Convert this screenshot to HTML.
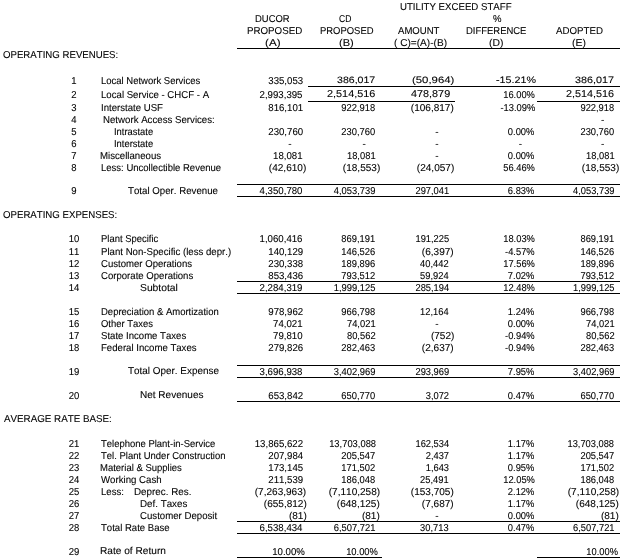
<!DOCTYPE html>
<html lang="en"><head><meta charset="utf-8"><title>Results of Operations</title>
<style>
html,body{margin:0;padding:0;background:#fff;}
body{width:621px;height:559px;position:relative;overflow:hidden;font-family:"Liberation Sans",sans-serif;font-size:10px;line-height:12px;color:#000;font-kerning:none;will-change:transform;filter:grayscale(1);-webkit-text-stroke:0.1px #000;text-rendering:geometricPrecision;}
.t{position:absolute;white-space:pre;transform-origin:0 0;}
.r{position:absolute;white-space:pre;transform-origin:100% 0;text-align:right;}
.h{position:absolute;height:1px;background:#000;}
</style></head><body>
<div class="t" style="left:3.34px;top:50.00px;transform:scaleX(0.9646)">OPERATING REVENUES:</div>
<div class="t" style="left:3.24px;top:210.00px;transform:scaleX(0.9651)">OPERATING EXPENSES:</div>
<div class="t" style="left:3.78px;top:414.00px;transform:scaleX(0.9798)">AVERAGE RATE BASE:</div>
<div class="t" style="left:399.96px;top:2.00px;transform:scaleX(0.9650)">UTILITY EXCEED STAFF</div>
<div class="t" style="left:254.93px;top:14.00px;transform:scaleX(0.9440)">DUCOR</div>
<div class="t" style="left:246.70px;top:26.00px;transform:scaleX(0.9733)">PROPOSED</div>
<div class="t" style="left:264.98px;top:38.00px;transform:scaleX(1.1663)">(A)</div>
<div class="t" style="left:339.37px;top:14.00px;transform:scaleX(0.8546)">CD</div>
<div class="t" style="left:319.93px;top:26.00px;transform:scaleX(0.9444)">PROPOSED</div>
<div class="t" style="left:339.11px;top:38.00px;transform:scaleX(1.1084)">(B)</div>
<div class="t" style="left:397.88px;top:26.00px;transform:scaleX(0.9563)">AMOUNT</div>
<div class="t" style="left:394.17px;top:38.00px;transform:scaleX(1.0107)">( C)=(A)-(B)</div>
<div class="t" style="left:492.86px;top:14.00px;transform:scaleX(0.9537)">%</div>
<div class="t" style="left:466.12px;top:26.00px;transform:scaleX(0.9451)">DIFFERENCE</div>
<div class="t" style="left:489.46px;top:38.00px;transform:scaleX(1.0363)">(D)</div>
<div class="t" style="left:555.98px;top:26.00px;transform:scaleX(0.9699)">ADOPTED</div>
<div class="t" style="left:572.05px;top:38.00px;transform:scaleX(1.0422)">(E)</div>
<div class="t" style="left:64.20px;top:76.00px;width:20px;text-align:center;transform-origin:50% 0;transform:scaleX(0.95)">1</div>
<div class="t" style="left:64.20px;top:90.00px;width:20px;text-align:center;transform-origin:50% 0;transform:scaleX(0.95)">2</div>
<div class="t" style="left:64.20px;top:103.00px;width:20px;text-align:center;transform-origin:50% 0;transform:scaleX(0.95)">3</div>
<div class="t" style="left:64.20px;top:115.00px;width:20px;text-align:center;transform-origin:50% 0;transform:scaleX(0.95)">4</div>
<div class="t" style="left:64.20px;top:127.00px;width:20px;text-align:center;transform-origin:50% 0;transform:scaleX(0.95)">5</div>
<div class="t" style="left:64.20px;top:139.00px;width:20px;text-align:center;transform-origin:50% 0;transform:scaleX(0.95)">6</div>
<div class="t" style="left:64.20px;top:151.00px;width:20px;text-align:center;transform-origin:50% 0;transform:scaleX(0.95)">7</div>
<div class="t" style="left:64.20px;top:163.00px;width:20px;text-align:center;transform-origin:50% 0;transform:scaleX(0.95)">8</div>
<div class="t" style="left:64.20px;top:186.00px;width:20px;text-align:center;transform-origin:50% 0;transform:scaleX(0.95)">9</div>
<div class="t" style="left:64.20px;top:234.00px;width:20px;text-align:center;transform-origin:50% 0;transform:scaleX(0.95)">10</div>
<div class="t" style="left:64.20px;top:247.00px;width:20px;text-align:center;transform-origin:50% 0;transform:scaleX(0.95)">11</div>
<div class="t" style="left:64.20px;top:259.00px;width:20px;text-align:center;transform-origin:50% 0;transform:scaleX(0.95)">12</div>
<div class="t" style="left:64.20px;top:271.00px;width:20px;text-align:center;transform-origin:50% 0;transform:scaleX(0.95)">13</div>
<div class="t" style="left:64.20px;top:283.00px;width:20px;text-align:center;transform-origin:50% 0;transform:scaleX(0.95)">14</div>
<div class="t" style="left:64.20px;top:307.00px;width:20px;text-align:center;transform-origin:50% 0;transform:scaleX(0.95)">15</div>
<div class="t" style="left:64.20px;top:319.00px;width:20px;text-align:center;transform-origin:50% 0;transform:scaleX(0.95)">16</div>
<div class="t" style="left:64.20px;top:331.00px;width:20px;text-align:center;transform-origin:50% 0;transform:scaleX(0.95)">17</div>
<div class="t" style="left:64.20px;top:343.00px;width:20px;text-align:center;transform-origin:50% 0;transform:scaleX(0.95)">18</div>
<div class="t" style="left:64.20px;top:367.00px;width:20px;text-align:center;transform-origin:50% 0;transform:scaleX(0.95)">19</div>
<div class="t" style="left:64.20px;top:391.00px;width:20px;text-align:center;transform-origin:50% 0;transform:scaleX(0.95)">20</div>
<div class="t" style="left:64.20px;top:439.00px;width:20px;text-align:center;transform-origin:50% 0;transform:scaleX(0.95)">21</div>
<div class="t" style="left:64.20px;top:451.00px;width:20px;text-align:center;transform-origin:50% 0;transform:scaleX(0.95)">22</div>
<div class="t" style="left:64.20px;top:463.00px;width:20px;text-align:center;transform-origin:50% 0;transform:scaleX(0.95)">23</div>
<div class="t" style="left:64.20px;top:475.00px;width:20px;text-align:center;transform-origin:50% 0;transform:scaleX(0.95)">24</div>
<div class="t" style="left:64.20px;top:487.00px;width:20px;text-align:center;transform-origin:50% 0;transform:scaleX(0.95)">25</div>
<div class="t" style="left:64.20px;top:499.00px;width:20px;text-align:center;transform-origin:50% 0;transform:scaleX(0.95)">26</div>
<div class="t" style="left:64.20px;top:511.00px;width:20px;text-align:center;transform-origin:50% 0;transform:scaleX(0.95)">27</div>
<div class="t" style="left:64.20px;top:523.00px;width:20px;text-align:center;transform-origin:50% 0;transform:scaleX(0.95)">28</div>
<div class="t" style="left:64.20px;top:547.00px;width:20px;text-align:center;transform-origin:50% 0;transform:scaleX(0.95)">29</div>
<div class="t" style="left:100.92px;top:76.00px;transform:scaleX(0.9497)">Local Network Services</div>
<div class="t" style="left:100.91px;top:90.00px;transform:scaleX(0.9631)">Local Service - CHCF - A</div>
<div class="t" style="left:100.81px;top:103.00px;transform:scaleX(0.9613)">Interstate USF</div>
<div class="t" style="left:103.41px;top:115.00px;transform:scaleX(0.9670)">Network Access Services:</div>
<div class="t" style="left:114.13px;top:127.00px;transform:scaleX(0.9399)">Intrastate</div>
<div class="t" style="left:114.13px;top:139.00px;transform:scaleX(0.9399)">Interstate</div>
<div class="t" style="left:100.41px;top:151.00px;transform:scaleX(0.9649)">Miscellaneous</div>
<div class="t" style="left:100.92px;top:163.00px;transform:scaleX(0.9518)">Less: Uncollectible Revenue</div>
<div class="t" style="left:128.48px;top:186.00px;transform:scaleX(0.9690)">Total Oper. Revenue</div>
<div class="t" style="left:100.93px;top:234.00px;transform:scaleX(0.9445)">Plant Specific</div>
<div class="t" style="left:100.91px;top:247.00px;transform:scaleX(0.9640)">Plant Non-Specific (less depr.)</div>
<div class="t" style="left:101.21px;top:259.00px;transform:scaleX(0.9578)">Customer Operations</div>
<div class="t" style="left:101.21px;top:271.00px;transform:scaleX(0.9591)">Corporate Operations</div>
<div class="t" style="left:140.23px;top:283.00px;transform:scaleX(1.0317)">Subtotal</div>
<div class="t" style="left:100.92px;top:307.00px;transform:scaleX(0.9496)">Depreciation &amp; Amortization</div>
<div class="t" style="left:101.25px;top:319.00px;transform:scaleX(0.9449)">Other Taxes</div>
<div class="t" style="left:101.27px;top:331.00px;transform:scaleX(0.9578)">State Income Taxes</div>
<div class="t" style="left:100.91px;top:343.00px;transform:scaleX(0.9603)">Federal Income Taxes</div>
<div class="t" style="left:128.48px;top:366.00px;transform:scaleX(0.9918)">Total Oper. Expense</div>
<div class="t" style="left:139.88px;top:390.00px;transform:scaleX(1.0018)">Net Revenues</div>
<div class="t" style="left:100.99px;top:439.00px;transform:scaleX(0.9471)">Telephone Plant-in-Service</div>
<div class="t" style="left:100.99px;top:451.00px;transform:scaleX(0.9486)">Tel. Plant Under Construction</div>
<div class="t" style="left:100.42px;top:463.00px;transform:scaleX(0.9497)">Material &amp; Supplies</div>
<div class="t" style="left:101.16px;top:475.00px;transform:scaleX(0.9661)">Working Cash</div>
<div class="t" style="left:100.91px;top:487.00px;transform:scaleX(0.9608)">Less:</div>
<div class="t" style="left:134.09px;top:487.00px;transform:scaleX(0.9837)">Deprec. Res.</div>
<div class="t" style="left:139.90px;top:499.00px;transform:scaleX(0.9795)">Def. Taxes</div>
<div class="t" style="left:140.21px;top:511.00px;transform:scaleX(0.9641)">Customer Deposit</div>
<div class="t" style="left:100.99px;top:523.00px;transform:scaleX(0.9559)">Total Rate Base</div>
<div class="t" style="left:100.37px;top:546.00px;transform:scaleX(1.0131)">Rate of Return</div>
<div class="r" style="right:318.20px;top:76.00px;transform:scaleX(0.9650)">335,053</div>
<div class="t" style="left:337.40px;top:74.00px;transform:scaleX(1.1374);font-size:9.3px">386,017</div>
<div class="t" style="left:411.90px;top:74.00px;transform:scaleX(1.2214);font-size:9.3px">(50,964)</div>
<div class="t" style="left:495.52px;top:74.00px;transform:scaleX(1.1536);font-size:9.3px">-15.21%</div>
<div class="t" style="left:575.49px;top:74.00px;transform:scaleX(1.1587);font-size:9.3px">386,017</div>
<div class="r" style="right:318.20px;top:90.00px;transform:scaleX(0.9650)">2,993,395</div>
<div class="t" style="left:327.25px;top:89.00px;transform:scaleX(1.0862);font-size:10px">2,514,516</div>
<div class="t" style="left:410.65px;top:89.00px;transform:scaleX(1.0834);font-size:10px">478,879</div>
<div class="r" style="right:86.20px;top:90.00px;transform:scaleX(0.9350)">16.00%</div>
<div class="t" style="left:566.36px;top:89.00px;transform:scaleX(1.0793);font-size:10px">2,514,516</div>
<div class="r" style="right:318.20px;top:103.00px;transform:scaleX(0.9650)">816,101</div>
<div class="r" style="right:245.40px;top:103.00px;transform:scaleX(0.9370)">922,918</div>
<div class="r" style="right:167.10px;top:103.00px;transform:scaleX(1.0050)">(106,817)</div>
<div class="r" style="right:86.20px;top:103.00px;transform:scaleX(0.9350)">-13.09%</div>
<div class="r" style="right:6.60px;top:103.00px;transform:scaleX(0.9310)">922,918</div>
<div class="t" style="left:601.03px;top:115.00px">-</div>
<div class="r" style="right:318.20px;top:127.00px;transform:scaleX(0.9650)">230,760</div>
<div class="r" style="right:245.40px;top:127.00px;transform:scaleX(0.9370)">230,760</div>
<div class="t" style="left:435.33px;top:127.00px">-</div>
<div class="r" style="right:86.20px;top:127.00px;transform:scaleX(0.9350)">0.00%</div>
<div class="r" style="right:6.60px;top:127.00px;transform:scaleX(0.9310)">230,760</div>
<div class="t" style="left:288.33px;top:139.00px">-</div>
<div class="t" style="left:362.43px;top:139.00px">-</div>
<div class="t" style="left:435.33px;top:139.00px">-</div>
<div class="t" style="left:518.83px;top:139.00px">-</div>
<div class="t" style="left:601.03px;top:139.00px">-</div>
<div class="r" style="right:318.20px;top:151.00px;transform:scaleX(0.9650)">18,081</div>
<div class="r" style="right:245.40px;top:151.00px;transform:scaleX(0.9370)">18,081</div>
<div class="t" style="left:435.33px;top:151.00px">-</div>
<div class="r" style="right:86.20px;top:151.00px;transform:scaleX(0.9350)">0.00%</div>
<div class="r" style="right:6.60px;top:151.00px;transform:scaleX(0.9310)">18,081</div>
<div class="r" style="right:314.40px;top:163.00px;transform:scaleX(1.0050)">(42,610)</div>
<div class="r" style="right:241.10px;top:163.00px;transform:scaleX(1.0050)">(18,553)</div>
<div class="r" style="right:167.10px;top:163.00px;transform:scaleX(1.0050)">(24,057)</div>
<div class="r" style="right:86.20px;top:163.00px;transform:scaleX(0.9350)">56.46%</div>
<div class="r" style="right:2.10px;top:163.00px;transform:scaleX(1.0050)">(18,553)</div>
<div class="r" style="right:318.20px;top:186.00px;transform:scaleX(0.9650)">4,350,780</div>
<div class="r" style="right:245.40px;top:186.00px;transform:scaleX(0.9370)">4,053,739</div>
<div class="r" style="right:172.30px;top:186.00px;transform:scaleX(0.9320)">297,041</div>
<div class="r" style="right:86.20px;top:186.00px;transform:scaleX(0.9350)">6.83%</div>
<div class="r" style="right:6.60px;top:186.00px;transform:scaleX(0.9310)">4,053,739</div>
<div class="r" style="right:318.20px;top:234.00px;transform:scaleX(0.9650)">1,060,416</div>
<div class="r" style="right:245.40px;top:234.00px;transform:scaleX(0.9370)">869,191</div>
<div class="r" style="right:172.30px;top:234.00px;transform:scaleX(0.9320)">191,225</div>
<div class="r" style="right:86.20px;top:234.00px;transform:scaleX(0.9350)">18.03%</div>
<div class="r" style="right:6.60px;top:234.00px;transform:scaleX(0.9310)">869,191</div>
<div class="r" style="right:318.20px;top:247.00px;transform:scaleX(0.9650)">140,129</div>
<div class="r" style="right:245.40px;top:247.00px;transform:scaleX(0.9370)">146,526</div>
<div class="r" style="right:167.10px;top:247.00px;transform:scaleX(1.0050)">(6,397)</div>
<div class="r" style="right:86.20px;top:247.00px;transform:scaleX(0.9350)">-4.57%</div>
<div class="r" style="right:6.60px;top:247.00px;transform:scaleX(0.9310)">146,526</div>
<div class="r" style="right:318.20px;top:259.00px;transform:scaleX(0.9650)">230,338</div>
<div class="r" style="right:245.40px;top:259.00px;transform:scaleX(0.9370)">189,896</div>
<div class="r" style="right:172.30px;top:259.00px;transform:scaleX(0.9320)">40,442</div>
<div class="r" style="right:86.20px;top:259.00px;transform:scaleX(0.9350)">17.56%</div>
<div class="r" style="right:6.60px;top:259.00px;transform:scaleX(0.9310)">189,896</div>
<div class="r" style="right:318.20px;top:271.00px;transform:scaleX(0.9650)">853,436</div>
<div class="r" style="right:245.40px;top:271.00px;transform:scaleX(0.9370)">793,512</div>
<div class="r" style="right:172.30px;top:271.00px;transform:scaleX(0.9320)">59,924</div>
<div class="r" style="right:86.20px;top:271.00px;transform:scaleX(0.9350)">7.02%</div>
<div class="r" style="right:6.60px;top:271.00px;transform:scaleX(0.9310)">793,512</div>
<div class="r" style="right:318.20px;top:283.00px;transform:scaleX(0.9650)">2,284,319</div>
<div class="r" style="right:245.40px;top:283.00px;transform:scaleX(0.9370)">1,999,125</div>
<div class="r" style="right:172.30px;top:283.00px;transform:scaleX(0.9320)">285,194</div>
<div class="r" style="right:86.20px;top:283.00px;transform:scaleX(0.9350)">12.48%</div>
<div class="r" style="right:6.60px;top:283.00px;transform:scaleX(0.9310)">1,999,125</div>
<div class="r" style="right:318.20px;top:307.00px;transform:scaleX(0.9650)">978,962</div>
<div class="r" style="right:245.40px;top:307.00px;transform:scaleX(0.9370)">966,798</div>
<div class="r" style="right:172.30px;top:307.00px;transform:scaleX(0.9320)">12,164</div>
<div class="r" style="right:86.20px;top:307.00px;transform:scaleX(0.9350)">1.24%</div>
<div class="r" style="right:6.60px;top:307.00px;transform:scaleX(0.9310)">966,798</div>
<div class="r" style="right:318.20px;top:319.00px;transform:scaleX(0.9650)">74,021</div>
<div class="r" style="right:245.40px;top:319.00px;transform:scaleX(0.9370)">74,021</div>
<div class="t" style="left:435.33px;top:319.00px">-</div>
<div class="r" style="right:86.20px;top:319.00px;transform:scaleX(0.9350)">0.00%</div>
<div class="r" style="right:6.60px;top:319.00px;transform:scaleX(0.9310)">74,021</div>
<div class="r" style="right:318.20px;top:331.00px;transform:scaleX(0.9650)">79,810</div>
<div class="r" style="right:245.40px;top:331.00px;transform:scaleX(0.9370)">80,562</div>
<div class="r" style="right:167.10px;top:331.00px;transform:scaleX(1.0050)">(752)</div>
<div class="r" style="right:86.20px;top:331.00px;transform:scaleX(0.9350)">-0.94%</div>
<div class="r" style="right:6.60px;top:331.00px;transform:scaleX(0.9310)">80,562</div>
<div class="r" style="right:318.20px;top:343.00px;transform:scaleX(0.9650)">279,826</div>
<div class="r" style="right:245.40px;top:343.00px;transform:scaleX(0.9370)">282,463</div>
<div class="r" style="right:167.10px;top:343.00px;transform:scaleX(1.0050)">(2,637)</div>
<div class="r" style="right:86.20px;top:343.00px;transform:scaleX(0.9350)">-0.94%</div>
<div class="r" style="right:6.60px;top:343.00px;transform:scaleX(0.9310)">282,463</div>
<div class="r" style="right:318.20px;top:367.00px;transform:scaleX(0.9650)">3,696,938</div>
<div class="r" style="right:245.40px;top:367.00px;transform:scaleX(0.9370)">3,402,969</div>
<div class="r" style="right:172.30px;top:367.00px;transform:scaleX(0.9320)">293,969</div>
<div class="r" style="right:86.20px;top:367.00px;transform:scaleX(0.9350)">7.95%</div>
<div class="r" style="right:6.60px;top:367.00px;transform:scaleX(0.9310)">3,402,969</div>
<div class="r" style="right:318.20px;top:391.00px;transform:scaleX(0.9650)">653,842</div>
<div class="r" style="right:245.40px;top:391.00px;transform:scaleX(0.9370)">650,770</div>
<div class="r" style="right:172.30px;top:391.00px;transform:scaleX(0.9320)">3,072</div>
<div class="r" style="right:86.20px;top:391.00px;transform:scaleX(0.9350)">0.47%</div>
<div class="r" style="right:6.60px;top:391.00px;transform:scaleX(0.9310)">650,770</div>
<div class="r" style="right:318.20px;top:439.00px;transform:scaleX(0.9650)">13,865,622</div>
<div class="r" style="right:245.40px;top:439.00px;transform:scaleX(0.9370)">13,703,088</div>
<div class="r" style="right:172.30px;top:439.00px;transform:scaleX(0.9320)">162,534</div>
<div class="r" style="right:86.20px;top:439.00px;transform:scaleX(0.9350)">1.17%</div>
<div class="r" style="right:6.60px;top:439.00px;transform:scaleX(0.9310)">13,703,088</div>
<div class="r" style="right:318.20px;top:451.00px;transform:scaleX(0.9650)">207,984</div>
<div class="r" style="right:245.40px;top:451.00px;transform:scaleX(0.9370)">205,547</div>
<div class="r" style="right:172.30px;top:451.00px;transform:scaleX(0.9320)">2,437</div>
<div class="r" style="right:86.20px;top:451.00px;transform:scaleX(0.9350)">1.17%</div>
<div class="r" style="right:6.60px;top:451.00px;transform:scaleX(0.9310)">205,547</div>
<div class="r" style="right:318.20px;top:463.00px;transform:scaleX(0.9650)">173,145</div>
<div class="r" style="right:245.40px;top:463.00px;transform:scaleX(0.9370)">171,502</div>
<div class="r" style="right:172.30px;top:463.00px;transform:scaleX(0.9320)">1,643</div>
<div class="r" style="right:86.20px;top:463.00px;transform:scaleX(0.9350)">0.95%</div>
<div class="r" style="right:6.60px;top:463.00px;transform:scaleX(0.9310)">171,502</div>
<div class="r" style="right:318.20px;top:475.00px;transform:scaleX(0.9650)">211,539</div>
<div class="r" style="right:245.40px;top:475.00px;transform:scaleX(0.9370)">186,048</div>
<div class="r" style="right:172.30px;top:475.00px;transform:scaleX(0.9320)">25,491</div>
<div class="r" style="right:86.20px;top:475.00px;transform:scaleX(0.9350)">12.05%</div>
<div class="r" style="right:6.60px;top:475.00px;transform:scaleX(0.9310)">186,048</div>
<div class="r" style="right:314.40px;top:487.00px;transform:scaleX(1.0050)">(7,263,963)</div>
<div class="r" style="right:241.10px;top:487.00px;transform:scaleX(1.0050)">(7,110,258)</div>
<div class="r" style="right:167.10px;top:487.00px;transform:scaleX(1.0050)">(153,705)</div>
<div class="r" style="right:86.20px;top:487.00px;transform:scaleX(0.9350)">2.12%</div>
<div class="r" style="right:2.10px;top:487.00px;transform:scaleX(1.0050)">(7,110,258)</div>
<div class="r" style="right:314.40px;top:499.00px;transform:scaleX(1.0050)">(655,812)</div>
<div class="r" style="right:241.10px;top:499.00px;transform:scaleX(1.0050)">(648,125)</div>
<div class="r" style="right:167.10px;top:499.00px;transform:scaleX(1.0050)">(7,687)</div>
<div class="r" style="right:86.20px;top:499.00px;transform:scaleX(0.9350)">1.17%</div>
<div class="r" style="right:2.10px;top:499.00px;transform:scaleX(1.0050)">(648,125)</div>
<div class="r" style="right:314.40px;top:511.00px;transform:scaleX(1.0050)">(81)</div>
<div class="r" style="right:241.10px;top:511.00px;transform:scaleX(1.0050)">(81)</div>
<div class="t" style="left:435.33px;top:511.00px">-</div>
<div class="r" style="right:86.20px;top:511.00px;transform:scaleX(0.9350)">0.00%</div>
<div class="r" style="right:2.10px;top:511.00px;transform:scaleX(1.0050)">(81)</div>
<div class="r" style="right:318.20px;top:523.00px;transform:scaleX(0.9650)">6,538,434</div>
<div class="r" style="right:245.40px;top:523.00px;transform:scaleX(0.9370)">6,507,721</div>
<div class="r" style="right:172.30px;top:523.00px;transform:scaleX(0.9320)">30,713</div>
<div class="r" style="right:86.20px;top:523.00px;transform:scaleX(0.9350)">0.47%</div>
<div class="r" style="right:6.60px;top:523.00px;transform:scaleX(0.9310)">6,507,721</div>
<div class="r" style="right:316.00px;top:547.00px;transform:scaleX(0.9650)">10.00%</div>
<div class="r" style="right:242.60px;top:547.00px;transform:scaleX(0.9370)">10.00%</div>
<div class="r" style="right:2.90px;top:547.00px;transform:scaleX(0.9310)">10.00%</div>
<div class="h" style="left:237px;top:48px;width:383px"></div>
<div class="h" style="left:308px;top:86px;width:312px"></div>
<div class="h" style="left:308px;top:101px;width:147px"></div>
<div class="h" style="left:537px;top:101px;width:83px"></div>
<div class="h" style="left:237px;top:184px;width:383px"></div>
<div class="h" style="left:237px;top:196px;width:383px"></div>
<div class="h" style="left:237px;top:281px;width:383px"></div>
<div class="h" style="left:237px;top:293px;width:383px"></div>
<div class="h" style="left:237px;top:365px;width:383px"></div>
<div class="h" style="left:237px;top:377px;width:383px"></div>
<div class="h" style="left:237px;top:401px;width:383px"></div>
<div class="h" style="left:237px;top:521px;width:383px"></div>
<div class="h" style="left:237px;top:533px;width:383px"></div>
<div class="h" style="left:237px;top:557px;width:145px"></div>
<div class="h" style="left:537px;top:557px;width:83px"></div>
</body></html>
